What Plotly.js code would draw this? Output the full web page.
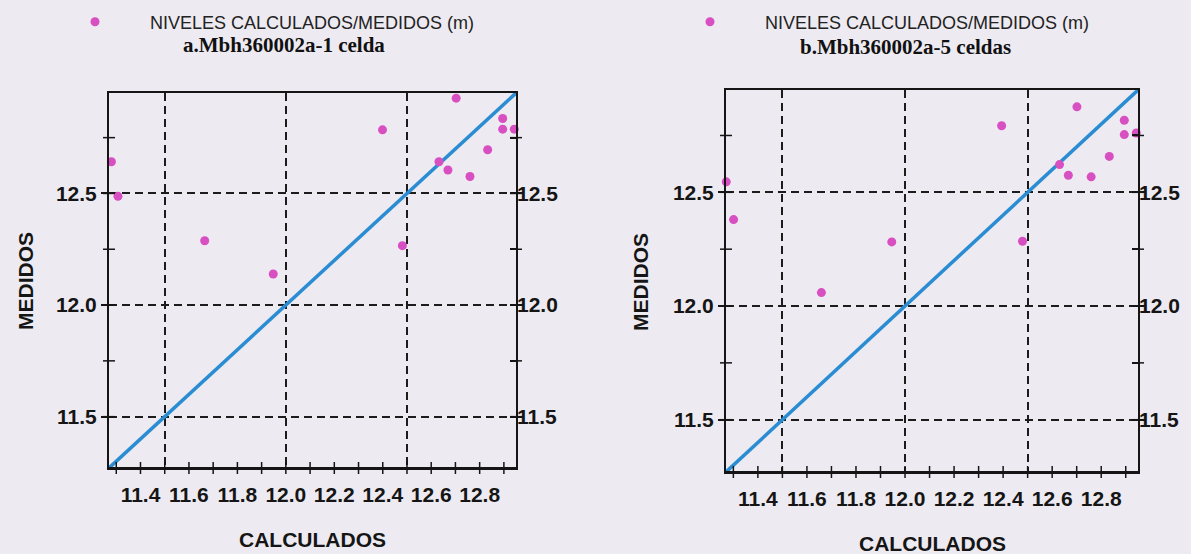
<!DOCTYPE html>
<html>
<head>
<meta charset="utf-8">
<script src="https://cdn.plot.ly/plotly-3.0.1.min.js"></script>
<style>
  html, body { margin: 0; padding: 0; background: #edebf1; }
  #chart { width: 1191px; height: 554px; }
</style>
</head>
<body>
<div id="chart"></div>
<script>
// ---- data ----
const legendName = 'NIVELES CALCULADOS/MEDIDOS (m)';
const titleA = 'a.Mbh360002a-1 celda';
const titleB = 'b.Mbh360002a-5 celdas';
const xTitle = 'CALCULADOS';
const yTitle = 'MEDIDOS';

// panel a (1 celda)
const calcA = [11.280, 11.307, 11.665, 11.948, 12.399, 12.481, 12.632, 12.669, 12.703, 12.760, 12.833, 12.895, 12.895, 12.943];
const medA  = [12.642, 12.487, 12.288, 12.139, 12.785, 12.266, 12.642, 12.605, 12.927, 12.576, 12.696, 12.836, 12.788, 12.788];
// panel b (5 celdas)
const calcB = [11.271, 11.301, 11.659, 11.946, 12.394, 12.479, 12.630, 12.666, 12.701, 12.759, 12.833, 12.894, 12.894, 12.943];
const medB  = [12.546, 12.380, 12.059, 12.282, 12.793, 12.285, 12.622, 12.575, 12.876, 12.568, 12.658, 12.817, 12.754, 12.761];

// 1:1 reference line ends
const identityLine = [11.27, 12.95];

// axes
const axisRange = [11.27, 12.95];
const xTickVals = [11.3, 11.4, 11.5, 11.6, 11.7, 11.8, 11.9, 12.0, 12.1, 12.2, 12.3, 12.4, 12.5, 12.6, 12.7, 12.8, 12.9];
const xTickText = ['', '11.4', '', '11.6', '', '11.8', '', '12.0', '', '12.2', '', '12.4', '', '12.6', '', '12.8', ''];
const yTickVals = [11.5, 12.0, 12.5];
const yTickText = ['11.5', '12.0', '12.5'];
const yAllTickVals = [11.5, 11.75, 12.0, 12.25, 12.5, 12.75];
const yAllTickText = ['11.5', '', '12.0', '', '12.5', ''];
const gridVals = [11.5, 12.0, 12.5];

// ---- styling ----
const W = 1191, H = 554;
const BG = '#edebf1';
const INK = '#151515';
const DOT = '#d84fc2';
const LINE = '#2a8cd2';
const tickFont = { family: 'Liberation Sans, Arial, sans-serif', size: 21, color: INK, weight: 'bold' };

const domA = { x: [109 / W, 516 / W], y: [1 - 468 / H, 1 - 93 / H] };
const domB = { x: [726 / W, 1138 / W], y: [1 - 472 / H, 1 - 90 / H] };

// base x axis: frame lines + dashed vertical grid
function gridX(dom, anchor) {
  return { domain: dom.x, anchor: anchor, range: axisRange, tickmode: 'array', tickvals: gridVals,
    showticklabels: false, ticks: '', showline: true, linecolor: INK, linewidth: 2, mirror: true,
    showgrid: true, gridcolor: '#1c1c1c', gridwidth: 2, griddash: '8px,5px' };
}
// overlaying x axis: labels every 0.2
function labelX(base, anchor) {
  return { overlaying: base, anchor: anchor, side: 'bottom', range: axisRange,
    tickmode: 'array', tickvals: xTickVals, ticktext: xTickText, tickangle: 0,
    ticks: '', ticklabelstandoff: 12, tickfont: tickFont, showgrid: false };
}
// left y axis: labels, outside ticks (mirrored), dashed horizontal grid
function leftY(dom, anchor) {
  return { domain: dom.y, anchor: anchor, range: axisRange, side: 'left',
    tickmode: 'array', tickvals: yTickVals, ticktext: yTickText,
    ticks: 'outside', ticklen: 6, tickwidth: 2, tickcolor: INK,
    tickfont: tickFont, showline: true, linecolor: INK, linewidth: 2, mirror: 'ticks',
    showgrid: true, gridcolor: '#1c1c1c', gridwidth: 2, griddash: '8px,5px', zeroline: false };
}
// right y axis: labels, inside ticks
function rightY(base, anchor) {
  return { overlaying: base, anchor: anchor, side: 'right', range: axisRange,
    tickmode: 'array', tickvals: yAllTickVals, ticktext: yAllTickText,
    ticks: 'inside', ticklen: 6, tickwidth: 2, tickcolor: INK,
    tickfont: tickFont, showgrid: false };
}

// tick marks that cross the frame, placed through the axes' own scales
function frameTicks(xa, ya) {
  const out = [];
  // bottom frame line
  out.push({ type: 'line', xref: xa + ' domain', yref: ya + ' domain', x0: 0, x1: 1, y0: 0, y1: 0,
    line: { color: INK, width: 2 } });
  // x ticks every 0.1 crossing the bottom line
  xTickVals.forEach(v => out.push({ type: 'line', xref: xa, yref: ya + ' domain',
    x0: v, x1: v, ysizemode: 'pixel', yanchor: 0, y0: -6, y1: 6, line: { color: INK, width: 1.5 } }));
  // y ticks crossing the left and right frame lines
  yAllTickVals.forEach(v => {
    out.push({ type: 'line', xref: xa + ' domain', yref: ya, y0: v, y1: v,
      xsizemode: 'pixel', xanchor: 0, x0: -6, x1: 6, line: { color: INK, width: 1.5 } });
    out.push({ type: 'line', xref: xa + ' domain', yref: ya, y0: v, y1: v,
      xsizemode: 'pixel', xanchor: 1, x0: -6, x1: 6, line: { color: INK, width: 1.5 } });
  });
  return out;
}

// invisible helper traces so that the overlaying axes are drawn
function ghost(xs, ys, xa, ya) {
  return { x: xs, y: ys, xaxis: xa, yaxis: ya, mode: 'markers', type: 'scatter',
    marker: { opacity: 0 }, showlegend: false, hoverinfo: 'skip' };
}

const traces = [
  { x: identityLine, y: identityLine, xaxis: 'x', yaxis: 'y', mode: 'lines', type: 'scatter',
    line: { color: LINE, width: 3.5 }, showlegend: false, hoverinfo: 'skip' },
  { x: calcA, y: medA, xaxis: 'x', yaxis: 'y', mode: 'markers', type: 'scatter', name: legendName,
    marker: { color: DOT, size: 9 }, cliponaxis: false, legend: 'legend' },
  { x: identityLine, y: identityLine, xaxis: 'x2', yaxis: 'y2', mode: 'lines', type: 'scatter',
    line: { color: LINE, width: 3.5 }, showlegend: false, hoverinfo: 'skip' },
  { x: calcB, y: medB, xaxis: 'x2', yaxis: 'y2', mode: 'markers', type: 'scatter', name: legendName,
    marker: { color: DOT, size: 9 }, cliponaxis: false, legend: 'legend2' },
  ghost(identityLine, identityLine, 'x3', 'y'),
  ghost(identityLine, identityLine, 'x', 'y3'),
  ghost(identityLine, identityLine, 'x4', 'y2'),
  ghost(identityLine, identityLine, 'x2', 'y4')
];

const legendFont = { family: 'Liberation Sans, Arial, sans-serif', size: 18, color: '#222' };
const titleFont = { family: 'Liberation Serif, Times New Roman, serif', size: 21, color: '#111', weight: 'bold' };
const axTitleFont = { family: 'Liberation Sans, Arial, sans-serif', size: 21, color: INK, weight: 'bold' };

const layout = {
  width: W, height: H,
  margin: { l: 0, r: 0, t: 0, b: 0 },
  paper_bgcolor: BG, plot_bgcolor: 'rgba(0,0,0,0)',
  font: { family: 'Liberation Sans, Arial, sans-serif', color: INK },
  xaxis: gridX(domA, 'y'),
  xaxis2: gridX(domB, 'y2'),
  xaxis3: labelX('x', 'y'),
  xaxis4: labelX('x2', 'y2'),
  yaxis: leftY(domA, 'x'),
  yaxis2: leftY(domB, 'x2'),
  yaxis3: rightY('y', 'x'),
  yaxis4: rightY('y2', 'x2'),
  shapes: frameTicks('x', 'y').concat(frameTicks('x2', 'y2')),
  legend: { x: 40 / W, y: 1 - 22 / H, xanchor: 'left', yanchor: 'middle', bgcolor: 'rgba(0,0,0,0)',
    font: legendFont, itemwidth: 100 },
  legend2: { x: 655 / W, y: 1 - 22 / H, xanchor: 'left', yanchor: 'middle', bgcolor: 'rgba(0,0,0,0)',
    font: legendFont, itemwidth: 100 },
  showlegend: true,
  annotations: [
    { text: titleA, x: 284 / W, y: 1 - 45 / H, xref: 'paper', yref: 'paper', xanchor: 'center', yanchor: 'middle', showarrow: false, font: titleFont },
    { text: titleB, x: 905 / W, y: 1 - 47 / H, xref: 'paper', yref: 'paper', xanchor: 'center', yanchor: 'middle', showarrow: false, font: titleFont },
    { text: xTitle, x: 312 / W, y: 1 - 539 / H, xref: 'paper', yref: 'paper', xanchor: 'center', yanchor: 'middle', showarrow: false, font: axTitleFont },
    { text: xTitle, x: 932 / W, y: 1 - 543 / H, xref: 'paper', yref: 'paper', xanchor: 'center', yanchor: 'middle', showarrow: false, font: axTitleFont },
    { text: yTitle, x: 25 / W, y: 1 - 281 / H, xref: 'paper', yref: 'paper', xanchor: 'center', yanchor: 'middle', textangle: -90, showarrow: false, font: axTitleFont },
    { text: yTitle, x: 640 / W, y: 1 - 282 / H, xref: 'paper', yref: 'paper', xanchor: 'center', yanchor: 'middle', textangle: -90, showarrow: false, font: axTitleFont }
  ]
};

Plotly.newPlot('chart', traces, layout, { displayModeBar: false, staticPlot: true });
</script>
</body>
</html>
